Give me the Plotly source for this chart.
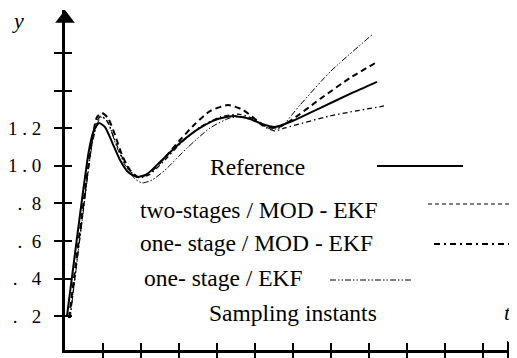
import plotly.graph_objects as go

# ---- data (t in sampling-interval units, y output) ----
ref_t = [0.053, 0.342, 0.632, 0.763, 0.895, 1.053, 1.237, 1.447, 1.658, 1.895, 2.158, 2.5, 3.026, 3.553, 3.947, 4.421, 4.868, 5.184, 5.526, 5.921, 6.711, 7.5, 8.211]
ref_y = [0.201, 0.658, 1.084, 1.190, 1.227, 1.206, 1.126, 1.031, 0.967, 0.940, 0.956, 1.020, 1.121, 1.201, 1.243, 1.265, 1.249, 1.222, 1.206, 1.233, 1.307, 1.382, 1.446]

two_t = [0.105, 0.395, 0.711, 0.842, 0.974, 1.132, 1.316, 1.5, 1.711, 1.921, 2.184, 2.5, 3.026, 3.421, 3.816, 4.289, 4.684, 5.0, 5.263, 5.553, 5.921, 6.711, 7.5, 8.211]
two_y = [0.19, 0.658, 1.137, 1.259, 1.281, 1.254, 1.164, 1.057, 0.977, 0.940, 0.956, 1.015, 1.137, 1.222, 1.291, 1.323, 1.297, 1.249, 1.211, 1.201, 1.238, 1.355, 1.467, 1.552]

mod_t = [0.132, 0.421, 0.711, 0.842, 0.947, 1.105, 1.289, 1.5, 1.711, 1.947, 2.211, 2.553, 3.079, 3.553, 4.079, 4.553, 4.921, 5.211, 5.526, 5.789, 6.974, 8.395]
mod_y = [0.19, 0.669, 1.126, 1.238, 1.265, 1.238, 1.148, 1.047, 0.972, 0.935, 0.951, 1.015, 1.126, 1.206, 1.259, 1.275, 1.254, 1.211, 1.185, 1.201, 1.265, 1.318]

ekf_t = [0.132, 0.421, 0.711, 0.868, 0.974, 1.132, 1.342, 1.579, 1.816, 2.026, 2.289, 2.632, 3.211, 3.816, 4.342, 4.737, 5.079, 5.395, 5.658, 6.184, 6.974, 8.105]
ekf_y = [0.19, 0.658, 1.110, 1.233, 1.26, 1.233, 1.110, 1.004, 0.935, 0.909, 0.924, 0.977, 1.094, 1.201, 1.254, 1.259, 1.233, 1.196, 1.201, 1.323, 1.499, 1.701]

y_tick_vals = [0.2, 0.4, 0.6, 0.8, 1.0, 1.2, 1.4, 1.6]
y_tick_text = [".\u00a0\u00a0\u00a02", ".\u00a0\u00a0\u00a04", ".\u00a0\u00a06", ".\u00a0\u00a08", "1\u00a0.\u00a00", "1\u00a0.\u00a02", "", ""]
x_tick_vals = [1, 2, 3, 4, 5, 6, 7, 8, 9, 10, 11]

legend_labels = ["Reference", "two-stages / MOD - EKF", "one- stage / MOD - EKF", "one- stage / EKF", "Sampling instants"]

# ---- geometry (page pixels; the page body has an 8px margin) ----
OFF = 8
PAGE_W, PAGE_H = 517, 358
AX_L, AX_T, AX_R, AX_B = 65, 10, 517, 350     # plot area in page pixels
W, H = PAGE_W - OFF, PAGE_H - OFF
L, T = AX_L - OFF, AX_T - OFF
R, B = PAGE_W - AX_R, PAGE_H - AX_B
PW, PH = AX_R - AX_L, AX_B - AX_T
XMAX = PW / 38.0
YMIN = 0.02
YMAX = YMIN + PH / 188.0
FONT = "Liberation Serif, Times New Roman, DejaVu Serif, serif"


def px(x):
    return (x - AX_L) / PW


def py(y):
    return (AX_B - y) / PH


fig = go.Figure()

fig.add_trace(go.Scatter(x=ref_t, y=ref_y, mode="lines", line=dict(color="black", width=2, shape="spline", smoothing=0.6)))
fig.add_trace(go.Scatter(x=two_t, y=two_y, mode="lines", line=dict(color="black", width=2, dash="6px,4px", shape="spline", smoothing=0.6)))
fig.add_trace(go.Scatter(x=mod_t, y=mod_y, mode="lines", line=dict(color="black", width=1.3, dash="5px,3px,1.5px,3px", shape="spline", smoothing=0.6)))
fig.add_trace(go.Scatter(x=ekf_t, y=ekf_y, mode="lines", line=dict(color="black", width=1, dash="6px,2px,1.5px,2px,1.5px,2px", shape="spline", smoothing=0.6)))

# axis arrowheads
fig.add_trace(go.Scatter(x=[0], y=[YMIN + (AX_B - 18.5) / 188.0], mode="markers",
                         marker=dict(symbol="triangle-up", size=17, color="black"), cliponaxis=False))
fig.add_trace(go.Scatter(x=[(511 - AX_L) / 38.0], y=[YMIN], mode="markers",
                         marker=dict(symbol="triangle-right", size=16, color="black"), cliponaxis=False))

# overlay axes for inner halves of crossing ticks
fig.add_trace(go.Scatter(x=[None], y=[None], xaxis="x2", yaxis="y2", showlegend=False))

axis_common = dict(showgrid=False, zeroline=False, showline=True, linecolor="black", linewidth=3,
                   tickcolor="black", tickwidth=2, ticklen=8)

fig.update_layout(
    width=W, height=H,
    margin=dict(l=L, r=R, t=T, b=B, pad=0),
    plot_bgcolor="white", paper_bgcolor="white",
    font=dict(family=FONT, color="black"),
    showlegend=False,
    xaxis=dict(range=[0, XMAX], tickvals=x_tick_vals, ticks="outside", showticklabels=False, **axis_common),
    yaxis=dict(range=[YMIN, YMAX], tickvals=y_tick_vals, ticktext=y_tick_text, ticks="outside",
               ticklabelstandoff=9, tickfont=dict(family=FONT, size=19, color="black"), **axis_common),
    xaxis2=dict(range=[0, XMAX], overlaying="x", anchor="y2", side="bottom", tickvals=x_tick_vals,
                ticks="inside", showticklabels=False, showgrid=False, zeroline=False, showline=False,
                tickcolor="black", tickwidth=2, ticklen=7),
    yaxis2=dict(range=[YMIN, YMAX], overlaying="y", anchor="x2", side="left", tickvals=y_tick_vals,
                ticks="inside", showticklabels=False, showgrid=False, zeroline=False, showline=False,
                tickcolor="black", tickwidth=2, ticklen=7),
)

# legend text
leg_pos = [(257, 167), (258.5, 210), (256.5, 243), (223, 278), (292.5, 313)]
for lab, (lx, ly) in zip(legend_labels, leg_pos):
    fig.add_annotation(xref="paper", yref="paper", x=px(lx), y=py(ly), text=lab, showarrow=False,
                       xanchor="center", yanchor="middle", font=dict(family=FONT, size=23.5, color="black"))

# legend line samples
samples = [((377, 463, 166), dict(color="black", width=2)),
           ((428, 517, 204), dict(color="black", width=1, dash="4px,3px")),
           ((434, 517, 244), dict(color="black", width=2, dash="6px,4px,2px,4px")),
           ((330, 413, 280), dict(color="black", width=1, dash="6px,2px,1.5px,2px,1.5px,2px"))]
for (x0, x1, yy), ln in samples:
    fig.add_shape(type="line", xref="paper", yref="paper", x0=px(x0), x1=px(x1), y0=py(yy), y1=py(yy), line=ln)

# axis names
fig.add_annotation(xref="paper", yref="paper", x=px(18), y=py(21), text="<i>y</i>", showarrow=False,
                   xanchor="center", yanchor="middle", font=dict(family=FONT, size=22, color="black"))
fig.add_annotation(xref="paper", yref="paper", x=px(507), y=py(312), text="<i>t</i>", showarrow=False,
                   xanchor="center", yanchor="middle", font=dict(family=FONT, size=22, color="black"))

fig.write_html("out.html")
